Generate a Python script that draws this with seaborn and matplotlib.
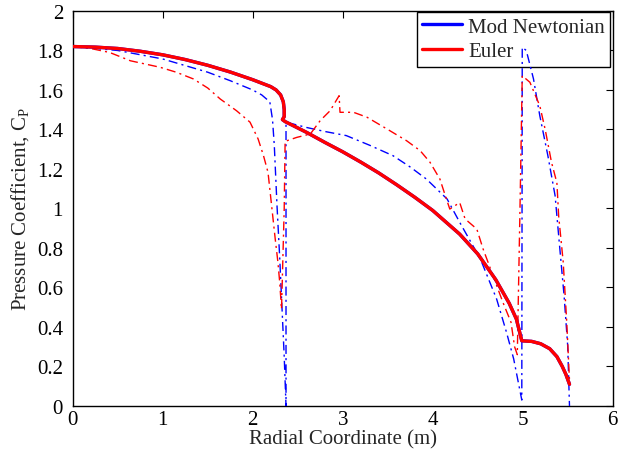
import numpy as np
import pandas as pd
import matplotlib
matplotlib.use("Agg")
import matplotlib.pyplot as plt
import seaborn as sns

# ---- data ----
# solid curves (Mod Newtonian and Euler coincide)
solid_x = [0, 0.25, 0.5, 0.75, 1.0, 1.25, 1.5, 1.75, 2.0, 2.2, 2.26, 2.31, 2.34, 2.35, 2.35, 2.33, 2.36,
           2.6, 2.8, 3.0, 3.2, 3.4, 3.6, 3.8, 4.0, 4.15, 4.3, 4.5, 4.7, 4.85, 4.93, 4.99,
           5.1, 5.2, 5.3, 5.38, 5.44, 5.48, 5.52]
solid_y = [1.82, 1.817, 1.81, 1.796, 1.778, 1.754, 1.725, 1.691, 1.652, 1.617, 1.60, 1.575, 1.54, 1.50, 1.465, 1.45, 1.44,
           1.385, 1.335, 1.287, 1.235, 1.18, 1.12, 1.057, 0.99, 0.93, 0.87, 0.77, 0.64, 0.52, 0.44, 0.33,
           0.327, 0.315, 0.29, 0.25, 0.20, 0.16, 0.11]

# blue dash-dot curve
bdd_x = [0, 0.5, 1.0, 1.5, 1.75, 2.0, 2.1, 2.19, 2.22, 2.24, 2.27, 2.30, 2.32, 2.35, 2.37, 2.37,
         2.6, 2.8, 3.04, 3.3, 3.56, 3.75, 3.93, 4.16, 4.30, 4.53, 4.71, 4.82, 4.90, 4.99, 4.995,
         5.04, 5.12, 5.19, 5.28, 5.36, 5.41, 5.46, 5.50, 5.52]
bdd_y = [1.82, 1.80, 1.757, 1.69, 1.647, 1.60, 1.575, 1.54, 1.45, 1.318, 1.014, 0.75, 0.55, 0.25, 0.0, 1.437,
         1.41, 1.39, 1.369, 1.32, 1.267, 1.21, 1.149, 1.048, 0.93, 0.744, 0.542, 0.373, 0.238, 0.03, 1.816,
         1.80, 1.656, 1.47, 1.267, 1.065, 0.81, 0.558, 0.305, 0.0]

# red dash-dot curve
rdd_x = [0, 0.2, 0.41, 0.64, 0.97, 1.15, 1.34, 1.5, 1.64, 1.82, 1.97, 2.06, 2.12, 2.17, 2.21, 2.25, 2.28, 2.30, 2.32,
         2.35, 2.36, 2.49, 2.64, 2.75, 2.86, 2.96, 2.97, 3.12, 3.27, 3.49, 3.71, 3.86, 3.97, 4.08, 4.14, 4.19,
         4.30, 4.36, 4.49, 4.56, 4.67, 4.78, 4.87, 4.91, 4.94, 4.97, 4.995,
         5.08, 5.19, 5.25, 5.32, 5.38, 5.40, 5.45, 5.49, 5.52]
rdd_y = [1.82, 1.81, 1.79, 1.748, 1.715, 1.69, 1.656, 1.61, 1.554, 1.495, 1.437, 1.352, 1.267, 1.183, 1.014, 0.846, 0.728, 0.626, 0.49,
         1.0, 1.34, 1.36, 1.377, 1.445, 1.495, 1.571, 1.487, 1.487, 1.462, 1.403, 1.343, 1.293, 1.234, 1.149, 1.065, 0.997,
         1.03, 0.947, 0.896, 0.795, 0.66, 0.525, 0.424, 0.30, 0.26, 1.0, 1.672,
         1.639, 1.52, 1.40, 1.234, 1.13, 0.96, 0.73, 0.42, 0.13]

x_ticks = [0, 1, 2, 3, 4, 5, 6]
y_ticks = [0, 0.2, 0.4, 0.6, 0.8, 1.0, 1.2, 1.4, 1.6, 1.8, 2.0]
y_tick_labels = ['0', '0.2', '0.4', '0.6', '0.8', '1', '1.2', '1.4', '1.6', '1.8', '2']

sns.set_theme(style="white")
plt.rcParams['font.family'] = ['Liberation Serif', 'DejaVu Serif']
plt.rcParams['mathtext.fontset'] = 'custom'
plt.rcParams['mathtext.rm'] = 'Liberation Serif'
plt.rcParams['mathtext.it'] = 'Liberation Serif:italic'

fig = plt.figure(figsize=(6.19, 4.52), dpi=100)
ax = fig.add_axes([0.1175, 0.0996, 0.8723, 0.8739])

dd = (0, (6.5, 3, 1.5, 3))
sns.lineplot(x=bdd_x, y=bdd_y, ax=ax, sort=False, estimator=None, color=(0, 0, 1),
             linewidth=1.0, linestyle=dd, zorder=3)
sns.lineplot(x=rdd_x, y=rdd_y, ax=ax, sort=False, estimator=None, color=(1, 0, 0),
             linewidth=1.0, linestyle=dd, zorder=3)
sns.lineplot(x=solid_x, y=solid_y, ax=ax, sort=False, estimator=None, color=(0, 0, 1),
             linewidth=2.4, label='Mod Newtonian', zorder=3)
sns.lineplot(x=solid_x, y=solid_y, ax=ax, sort=False, estimator=None, color=(1, 0, 0),
             linewidth=2.4, label='Euler', zorder=3)

ax.set_xlim(0, 6)
ax.set_ylim(0, 2)
ax.set_xticks(x_ticks)
ax.set_xticklabels([str(t) for t in x_ticks])
ax.set_yticks(y_ticks)
ax.set_yticklabels(y_tick_labels)
ax.tick_params(direction='in', length=5, width=0.8, top=True, right=True,
               labelsize=15, colors='black')
ax.tick_params(axis='x', pad=3)
ax.tick_params(axis='y', pad=7)
for s in ax.spines.values():
    s.set_visible(True)
    s.set_color('black')
    s.set_linewidth(1.0)

ax.set_xlabel('Radial Coordinate (m)', fontsize=15, labelpad=0, family='Liberation Serif')
ax.set_ylabel(r'Pressure Coefficient, C$_\mathregular{P}$', fontsize=15, labelpad=4,
              family='Liberation Serif')

leg = ax.legend(loc='upper right', bbox_to_anchor=(0.995, 0.998), borderaxespad=0,
                prop={'family': 'Liberation Serif', 'size': 15},
                frameon=True, fancybox=False, framealpha=1,
                handlelength=1.9, handletextpad=0.3, borderpad=0.25, labelspacing=0.25)
leg.get_frame().set_edgecolor('black')
leg.get_frame().set_linewidth(1.0)
leg.set_zorder(2)
for t in ax.get_xticklabels() + ax.get_yticklabels():
    t.set_family('Liberation Serif')

fig.savefig('out.png', dpi=100)
